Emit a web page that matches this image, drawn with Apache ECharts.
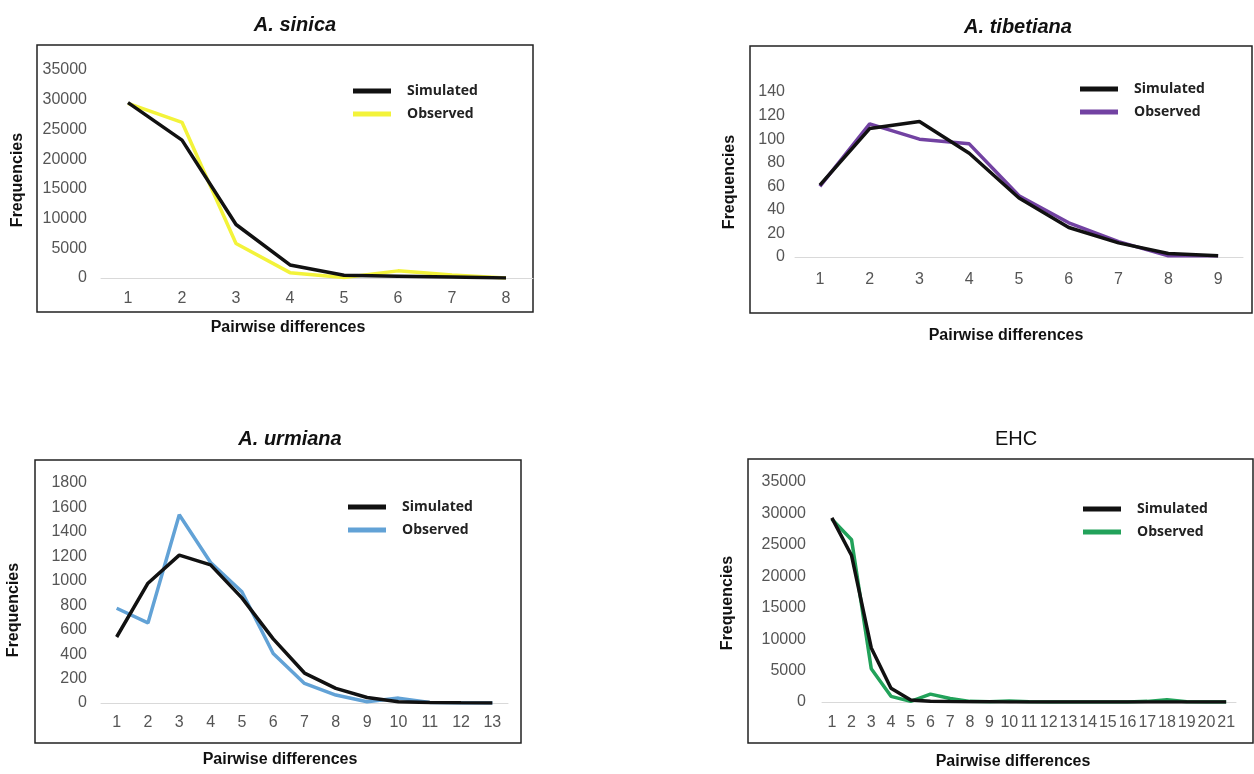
<!DOCTYPE html>
<html>
<head>
<meta charset="utf-8">
<script src="https://cdn.jsdelivr.net/npm/echarts@6/dist/echarts.min.js"></script>
<style>
  html, body { margin: 0; padding: 0; background: #fff; }
  #main { width: 1254px; height: 774px; }
</style>
</head>
<body>
<div id="main"></div>
<script>
// pairwise difference classes
var sinicaCats = ['1', '2', '3', '4', '5', '6', '7', '8'];
var tibetCats = ['1', '2', '3', '4', '5', '6', '7', '8', '9'];
var urmiaCats = ['1', '2', '3', '4', '5', '6', '7', '8', '9', '10', '11', '12', '13'];
var ehcCats = ['1', '2', '3', '4', '5', '6', '7', '8', '9', '10', '11', '12', '13', '14', '15', '16', '17', '18', '19', '20', '21'];

// frequencies
var sinicaSim = [29500, 23200, 9000, 2200, 450, 300, 150, 0];
var sinicaObs = [29400, 26200, 5800, 900, 100, 1200, 500, 0];
var tibetSim = [61, 109, 115, 88, 50, 25, 12, 3, 1];
var tibetObs = [60, 113, 100, 96, 52, 29, 13, 1, 1];
var urmiaSim = [540, 980, 1210, 1130, 860, 525, 245, 120, 45, 10, 5, 2, 0];
var urmiaObs = [775, 655, 1540, 1150, 910, 405, 160, 65, 10, 40, 5, 0, 0];
var ehcSim = [29300, 23300, 8600, 2200, 300, 100, 60, 30, 20, 10, 5, 5, 0, 0, 0, 0, 0, 0, 0, 0, 0];
var ehcObs = [29100, 25800, 5300, 900, 100, 1250, 550, 100, 50, 150, 50, 0, 0, 0, 0, 0, 100, 350, 50, 0, 0];

var panelTitles = ['A. sinica', 'A. tibetiana', 'A. urmiana', 'EHC'];
var obsColors = ['#f3f33a', '#7242a2', '#62a2d6', '#22a25a'];

var tickFont = '"Liberation Sans", Arial, sans-serif';

function panelAxes(idx, cats, yMax, yStep, xMargin, yMargin) {
    return {
        x: {
            type: 'category', gridIndex: idx, data: cats, boundaryGap: true,
            axisLine: { lineStyle: { color: '#d9d9d9', width: 1 } },
            axisTick: { show: false },
            axisLabel: { interval: 0, margin: xMargin, color: '#555', fontSize: 16, fontFamily: tickFont }
        },
        y: {
            type: 'value', gridIndex: idx, min: 0, max: yMax, interval: yStep,
            axisLine: { show: false }, axisTick: { show: false }, splitLine: { show: false },
            axisLabel: {
                margin: yMargin, color: '#555', fontSize: 16, fontFamily: tickFont,
                formatter: function (v) { return String(v); }
            }
        }
    };
}

function pairSeries(idx, sim, obs) {
    return [{
        name: idx + '|Observed', type: 'line', xAxisIndex: idx, yAxisIndex: idx,
        data: obs, showSymbol: false, symbol: 'none',
        lineStyle: { color: obsColors[idx], width: 3.5 },
        itemStyle: { color: obsColors[idx] }
    }, {
        name: idx + '|Simulated', type: 'line', xAxisIndex: idx, yAxisIndex: idx,
        data: sim, showSymbol: false, symbol: 'none',
        lineStyle: { color: '#111', width: 3.5 },
        itemStyle: { color: '#111' }
    }];
}

function panelLegend(idx, left, top) {
    return {
        data: [idx + '|Simulated', idx + '|Observed'],
        orient: 'vertical', left: left, top: top, itemGap: 9, padding: 0,
        icon: 'rect', itemWidth: 38, itemHeight: 5,
        selectedMode: false,
        formatter: function (name) { return name.split('|')[1]; },
        textStyle: { fontFamily: '"Open Sans", sans-serif', fontWeight: 'bold', fontSize: 14, color: '#222', padding: [0, 0, 0, 11] }
    };
}

var a0 = panelAxes(0, sinicaCats, 35000, 5000, 13, 14);
var a1 = panelAxes(1, tibetCats, 140, 20, 15, 10);
var a2 = panelAxes(2, urmiaCats, 1800, 200, 12, 14);
var a3 = panelAxes(3, ehcCats, 35000, 5000, 13, 16);

function box(x1, y1, x2, y2) {
    return { type: 'rect', shape: { x: x1, y: y1, width: x2 - x1, height: y2 - y1 },
        style: { fill: null, stroke: '#222', lineWidth: 1.5 }, silent: true };
}
function label(text, x, y, rot) {
    return { type: 'text', x: x, y: y, rotation: rot ? Math.PI / 2 : 0,
        style: { text: text, fill: '#111', font: 'bold 16px ' + tickFont, align: 'center', verticalAlign: 'middle' } };
}

var myChart = echarts.init(document.getElementById('main'));
var option = {
    animation: false,
    backgroundColor: '#fff',
    title: [
        { text: panelTitles[0], left: 290, top: 10, textAlign: 'center', textStyle: { fontSize: 20, fontStyle: 'italic', fontWeight: 'bold', fontFamily: tickFont, color: '#111' } },
        { text: panelTitles[1], left: 1013, top: 12, textAlign: 'center', textStyle: { fontSize: 20, fontStyle: 'italic', fontWeight: 'bold', fontFamily: tickFont, color: '#111' } },
        { text: panelTitles[2], left: 285, top: 424, textAlign: 'center', textStyle: { fontSize: 20, fontStyle: 'italic', fontWeight: 'bold', fontFamily: tickFont, color: '#111' } },
        { text: panelTitles[3], left: 1011, top: 424, textAlign: 'center', textStyle: { fontSize: 20, fontWeight: 'normal', fontFamily: tickFont, color: '#111' } }
    ],
    grid: [
        { left: 101, top: 70, width: 432, height: 208 },
        { left: 795, top: 92, width: 448, height: 165 },
        { left: 101, top: 483, width: 407, height: 220 },
        { left: 822, top: 482, width: 414, height: 220 }
    ],
    xAxis: [a0.x, a1.x, a2.x, a3.x],
    yAxis: [a0.y, a1.y, a2.y, a3.y],
    legend: [
        panelLegend(0, 353, 84),
        panelLegend(1, 1080, 82),
        panelLegend(2, 348, 500),
        panelLegend(3, 1083, 502)
    ],
    series: [].concat(
        pairSeries(0, sinicaSim, sinicaObs),
        pairSeries(1, tibetSim, tibetObs),
        pairSeries(2, urmiaSim, urmiaObs),
        pairSeries(3, ehcSim, ehcObs)
    ),
    graphic: [
        box(37, 45, 533, 312),
        box(750, 46, 1252, 313),
        box(35, 460, 521, 743),
        box(748, 459, 1253, 743),
        label('Pairwise differences', 288, 328),
        label('Pairwise differences', 1006, 336),
        label('Pairwise differences', 280, 760),
        label('Pairwise differences', 1013, 762),
        label('Frequencies', 18, 180, true),
        label('Frequencies', 730, 182, true),
        label('Frequencies', 14, 610, true),
        label('Frequencies', 728, 603, true)
    ]
};
myChart.setOption(option, true);
</script>
</body>
</html>
